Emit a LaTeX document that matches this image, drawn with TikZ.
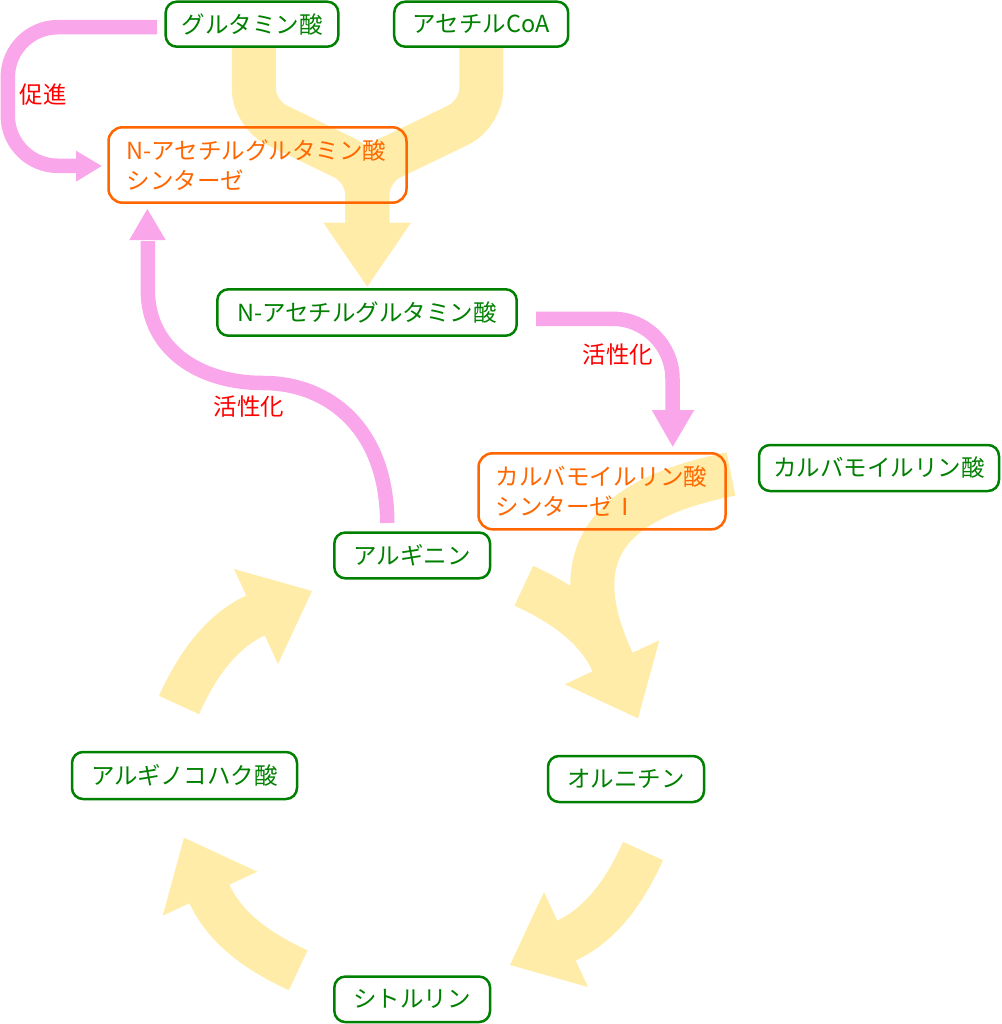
\documentclass[tikz,border=0pt]{standalone}
\usepackage{fontspec}
\setmainfont{Noto Sans CJK JP}
\definecolor{gcol}{RGB}{0,128,0}
\definecolor{ocol}{RGB}{255,102,0}
\definecolor{ycol}{RGB}{255,236,168}
\definecolor{pcol}{RGB}{250,166,234}
\definecolor{rcol}{RGB}{255,0,0}
\begin{document}
\begin{tikzpicture}[x=1pt,y=-1pt,
  font=\fontsize{23.5pt}{30pt}\selectfont,
  gbox/.style={draw=gcol, line width=2.5pt, rounded corners=11pt, text=gcol, inner sep=0pt},
  obox/.style={draw=ocol, line width=2.5pt, rounded corners=14pt, text=ocol, inner ysep=0pt, align=left},
  lab/.style={text=rcol, inner sep=0pt},
  yband/.style={draw=ycol, line width=44pt},
  yhead/.style={fill=ycol},
  pband/.style={draw=pcol, line width=14.5pt},
  phead/.style={fill=pcol}]
\useasboundingbox (0,0) rectangle (1001,1024);

% ---- yellow merge arrow ----
\draw[yband, rounded corners=25pt] (253.8,48) -- (253.8,114) -- (367.3,169) -- (367.3,226);
\draw[yband, rounded corners=25pt] (481.3,48) -- (481.3,114) -- (367.3,169) -- (367.3,226);
\fill[yhead] (323.3,222.7) -- (411,222.7) -- (367.3,286.7) -- cycle;

% ---- yellow cycle arrows ----
% argininosuccinate -> arginine
\draw[yband] (179,705) .. controls (195.4,668.6) and (219.1,632.3) .. (255.5,615.5) -- ++(5.5,-2.5);
\fill[yhead] (234,569) -- (312,591) -- (278,664) -- cycle;
% ornithine -> citrulline
\draw[yband] (643,851) .. controls (626.6,887.4) and (602.9,923.7) .. (566.5,940.5) -- ++(-5.5,2.5);
\fill[yhead] (544,892) -- (510,965) -- (588,987) -- cycle;
% citrulline -> argininosuccinate
\draw[yband] (298.2,970.3) .. controls (261.4,953.3) and (226.3,930.5) .. (209.3,893.7) -- ++(-2.5,-5.5);
\fill[yhead] (184,837.7) -- (257.3,871.7) -- (162.7,915.7) -- cycle;
% arginine -> ornithine
\draw[yband] (523.8,585.7) .. controls (560.6,602.7) and (595.7,625.5) .. (612.7,662.3) -- ++(2.5,5.5);
% CPS -> ornithine
\draw[yband] (731,474) .. controls (595.8,500.9) and (566.5,562.2) .. (612.7,662.3) -- ++(2.5,5.5);
\fill[yhead] (638,718.3) -- (564.7,684.3) -- (659.3,640.3) -- cycle;

% ---- nodes ----
\node[gbox, minimum width=172.6pt, minimum height=45pt] (glu) at (252,24.2) {グルタミン酸};
\node[gbox, minimum width=174pt, minimum height=45pt] (acoa) at (481.2,24.2) {アセチルCoA};
\node[obox, text width=262pt, inner xsep=18pt, minimum height=75.4pt] (nags) at (257.5,165) {N-アセチルグルタミン酸\\シンターゼ};
\node[gbox, minimum width=299.4pt, minimum height=46.4pt] (nag) at (367,312.5) {N-アセチルグルタミン酸};
\node[obox, text width=213pt, inner xsep=17pt, minimum height=76pt] (cps) at (602,491.3) {カルバモイルリン酸\\シンターゼⅠ};
\node[gbox, minimum width=240pt, minimum height=46pt] (cp) at (879,468) {カルバモイルリン酸};
\node[gbox, minimum width=155.7pt, minimum height=45.8pt] (arg) at (412.2,555.4) {アルギニン};
\node[gbox, minimum width=225pt, minimum height=47pt] (asa) at (184.5,775.5) {アルギノコハク酸};
\node[gbox, minimum width=156pt, minimum height=46pt] (orn) at (626,779) {オルニチン};
\node[gbox, minimum width=155.7pt, minimum height=45.5pt] (cit) at (412.2,999.3) {シトルリン};

% ---- pink arrows ----
\draw[pband, rounded corners=50pt] (157,27.2) -- (7.8,27.2) -- (7.8,165.8) -- (79,165.8);
\fill[phead] (76,150.7) -- (101.7,166) -- (76,181.7) -- cycle;
\draw[pband] (387.2,523) .. controls (387.2,430) and (330,383) .. (263,383)
  .. controls (200,383) and (147.8,350) .. (147.8,290) -- (147.8,241);
\fill[phead] (129.3,240) -- (165.7,240) -- (147.3,209) -- cycle;
\draw[pband, rounded corners=60pt] (536,318.8) -- (672.5,318.8) -- (672.5,412);
\fill[phead] (651.7,410) -- (694.3,410) -- (672.7,446.7) -- cycle;

% ---- labels ----
\node[lab] (l1) at (43,95) {促進};
\node[lab] (l2) at (249,407) {活性化};
\node[lab] (l3) at (618,355) {活性化};
\end{tikzpicture}
\end{document}
